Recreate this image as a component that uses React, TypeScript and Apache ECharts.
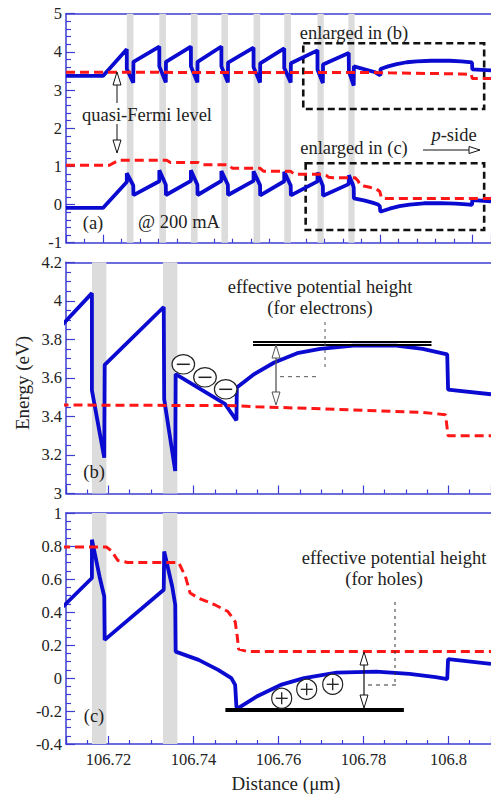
import { useEffect, useRef } from 'react';
import * as echarts from 'echarts';

// Quantum wells (gray bands), µm
const wellStart = [106.6129, 106.6305, 106.6476, 106.6641, 106.6815, 106.6981, 106.7161, 106.7328];
const wellEnd = [106.6165, 106.6341, 106.6512, 106.6677, 106.6851, 106.7017, 106.7195, 106.7362];

// Conduction band edge (eV)
const condBand: [number, number][] = [
  [106.58, 3.37], [106.6, 3.37],
  [106.6129, 4.07], [106.6129, 3.55], [106.6164, 3.19], [106.6165, 3.74],
  [106.6305, 4.14], [106.6305, 3.62], [106.634, 3.2], [106.6341, 3.74],
  [106.6476, 4.14], [106.6476, 3.62], [106.6511, 3.2], [106.6512, 3.74],
  [106.6641, 4.14], [106.6641, 3.62], [106.6676, 3.2], [106.6677, 3.72],
  [106.6815, 4.11], [106.6815, 3.6], [106.685, 3.2], [106.6851, 3.7],
  [106.6981, 4.09], [106.6981, 3.58], [106.7016, 3.2], [106.7017, 3.7],
  [106.7161, 4.04], [106.7161, 3.535], [106.719, 3.186], [106.7191, 3.668],
  [106.733, 3.968], [106.7331, 3.49], [106.7357, 3.117], [106.7358, 3.62],
  [106.7474, 3.465], [106.7501, 3.38], [106.7502, 3.55], [106.7543, 3.62],
  [106.759, 3.68], [106.7644, 3.728], [106.7698, 3.751], [106.7776, 3.767],
  [106.7877, 3.767], [106.7939, 3.751], [106.7997, 3.722], [106.7999, 3.539],
  [106.81, 3.515],
];

// Valence band edge (eV)
const valBand: [number, number][] = [
  [106.58, -0.09], [106.6, -0.09],
  [106.6129, 0.59], [106.6129, 0.82], [106.6164, 0.5], [106.6165, 0.245],
  [106.6305, 0.61], [106.6305, 0.9], [106.634, 0.52], [106.6341, 0.25],
  [106.6476, 0.62], [106.6476, 0.9], [106.6511, 0.52], [106.6512, 0.25],
  [106.6641, 0.62], [106.6641, 0.88], [106.6676, 0.52], [106.6677, 0.25],
  [106.6815, 0.62], [106.6815, 0.87], [106.685, 0.51], [106.6851, 0.24],
  [106.6981, 0.61], [106.6981, 0.86], [106.7016, 0.5], [106.7017, 0.24],
  [106.7161, 0.606], [106.7161, 0.838], [106.7179, 0.614], [106.719, 0.494], [106.7191, 0.231],
  [106.733, 0.535], [106.7331, 0.767], [106.735, 0.553], [106.7357, 0.444], [106.7358, 0.16],
  [106.7412, 0.11], [106.7458, 0.049], [106.7489, -0.001], [106.7498, -0.042],
  [106.7501, -0.175], [106.7505, -0.183], [106.7551, -0.109], [106.7605, -0.042],
  [106.766, -0.001], [106.7737, 0.033], [106.783, 0.039], [106.7908, 0.025],
  [106.797, 0.005], [106.7997, -0.007], [106.7999, 0.114], [106.81, 0.086],
];

// Electron quasi-Fermi level (eV)
const fermiN: [number, number][] = [
  [106.58, 3.465], [106.7, 3.46], [106.75, 3.456], [106.7548, 3.45], [106.7684, 3.441],
  [106.78, 3.432], [106.7939, 3.421], [106.7993, 3.409], [106.7999, 3.3], [106.81, 3.3],
];

// Hole quasi-Fermi level (eV)
const fermiP: [number, number][] = [
  [106.58, 1.03], [106.6035, 1.03], [106.6085, 1.16], [106.6345, 1.16], [106.6365, 1.1],
  [106.6515, 1.1], [106.6535, 1.04], [106.668, 1.04], [106.67, 0.95], [106.685, 0.95],
  [106.687, 0.87], [106.7016, 0.87], [106.7036, 0.794], [106.7195, 0.794], [106.7207, 0.77],
  [106.7222, 0.712], [106.7245, 0.7], [106.7365, 0.7], [106.7381, 0.615], [106.7392, 0.515],
  [106.7412, 0.484], [106.745, 0.444], [106.7481, 0.403], [106.7498, 0.342], [106.7503, 0.251],
  [106.7506, 0.175], [106.7528, 0.16], [106.81, 0.16],
];

// Enlarged-region boxes in panel (a): [x0, x1, y0, y1]
const boxB = [106.7084, 106.8063, 2.503, 4.225];
const boxC = [106.7097, 106.8063, -0.667, 1.08];
// Reference levels
const refLinesB = [3.79, 3.773];
const refLinesBExtent = [106.754, 106.796];
const refLineC = -0.194;
const refLineCExtent = [106.7475, 106.7895];

const xRangeA = [106.58, 106.81];
const xRangeBC = [106.71, 106.81];
const yTicksA = { min: -1, max: 5, interval: 1 };
const yTicksB = { min: 3, max: 4.2, interval: 0.2 };
const yTicksC = { min: -0.4, max: 1, interval: 0.2 };

const FONT = '"Liberation Serif", "Times New Roman", serif';
const AXIS = '#3c3cd2';
const BLUE = '#0a0ad0';
const RED = '#ff1616';
const TXT = '#222';

export default function App() {
  const ref = useRef<HTMLDivElement>(null);
  useEffect(() => {
    if (!ref.current) return;
    const chart = echarts.init(ref.current, undefined, { renderer: 'svg' });

    const xMain = (gi: number, range: number[], labels: boolean, minorSplit: number) => ({
      type: 'value', gridIndex: gi, min: range[0], max: range[1], splitNumber: 5,
      axisLine: { show: true, onZero: false, lineStyle: { color: AXIS, width: 1.5 } },
      axisTick: { show: true, inside: true, length: 8, lineStyle: { color: AXIS, width: 1.2 } },
      minorTick: { show: true, splitNumber: minorSplit, length: 4, lineStyle: { color: AXIS, width: 1.2 } },
      splitLine: { show: false },
      axisLabel: {
        show: labels, showMinLabel: false, showMaxLabel: false, margin: 7,
        color: TXT, fontFamily: FONT, fontSize: 16.5,
      },
    });
    const xTop = (gi: number, range: number[]) => ({
      type: 'value', gridIndex: gi, min: range[0], max: range[1], position: 'top',
      axisLine: { show: true, onZero: false, lineStyle: { color: AXIS, width: 1.5 } },
      axisTick: { show: false }, axisLabel: { show: false }, splitLine: { show: false },
    });
    const yAx = (gi: number, t: any, minorSplit: number) => ({
      type: 'value', gridIndex: gi, min: t.min, max: t.max, interval: t.interval,
      axisLine: { show: true, onZero: false, lineStyle: { color: AXIS, width: 1.5 } },
      axisTick: { show: true, inside: true, length: 9, lineStyle: { color: AXIS, width: 1.2 } },
      minorTick: { show: true, splitNumber: minorSplit, length: 5, lineStyle: { color: AXIS, width: 1.2 } },
      splitLine: { show: false },
      axisLabel: { margin: 4, color: TXT, fontFamily: FONT, fontSize: 16.5 },
    });

    const curve = (data: [number, number][], gi: number, color: string, dashed: boolean, extra: any = {}) => ({
      type: 'line', xAxisIndex: gi, yAxisIndex: gi, data, showSymbol: false, symbol: 'none',
      silent: true, z: dashed ? 4 : 3,
      lineStyle: { color, width: dashed ? 3 : 3.8, type: dashed ? [9, 5] : 'solid' },
      ...extra,
    });

    const bands = (gi: number, range: number[]) => ({
      type: 'line', xAxisIndex: gi, yAxisIndex: gi, data: [], silent: true, z: 1,
      markArea: {
        silent: true, itemStyle: { color: '#dcdcdc' },
        data: wellStart
          .map((s, k) => [s, wellEnd[k]])
          .filter(([s, e]) => e > range[0] && s < range[1])
          .map(([s, e]) => [{ xAxis: Math.max(s, range[0]) }, { xAxis: e }]),
      },
    });

    const boxArea = (b: number[]) => [{ coord: [b[0], b[3]] }, { coord: [b[1], b[2]] }];

    const head = (x: number, y: number, dir: string, color: string) => {
      let pts: number[][];
      if (dir === 'up') pts = [[x, y], [x - 4, y + 13], [x + 4, y + 13]];
      else if (dir === 'down') pts = [[x, y], [x - 4, y - 13], [x + 4, y - 13]];
      else pts = [[x, y], [x - 11, y - 3.5], [x - 11, y + 3.5]];
      return { type: 'polygon', z: 100, shape: { points: pts }, style: { fill: '#fff', stroke: color, lineWidth: 1 } };
    };
    const seg = (x1: number, y1: number, x2: number, y2: number, color: string, w = 1, dash?: number[]) => ({
      type: 'line', z: 100, shape: { x1, y1, x2, y2 },
      style: { stroke: color, lineWidth: w, lineDash: dash },
    });
    const txt = (x: number, y: number, text: string, size = 18.5, extra: any = {}) => ({
      type: 'text', z: 100, x, y,
      style: { text, fill: TXT, fontFamily: FONT, fontSize: size, align: 'center', verticalAlign: 'middle', ...extra },
    });

    const minusCircles = [[183.3, 364.3], [205, 377.3], [225.7, 389.3]];
    const plusCircles = [[281.7, 698.3], [306.7, 689.3], [332.7, 684.3]];

    const graphics: any[] = [
      txt(147, 115, 'quasi-Fermi level'),
      seg(117, 103, 117, 85, '#111'), head(117, 72, 'up', '#111'),
      seg(117, 124, 117, 140, '#111'), head(117, 153, 'down', '#111'),
      txt(93, 223, '(a)'),
      txt(179, 222, '@ 200 mA'),
      txt(354, 33, 'enlarged in (b)'),
      txt(354, 148, 'enlarged in (c)'),
      {
        type: 'text', z: 100, x: 454, y: 135,
        style: {
          text: '{i|p}-side', fill: TXT, fontFamily: FONT, fontSize: 18.5, align: 'center', verticalAlign: 'middle',
          rich: { i: { fontStyle: 'italic', fontFamily: FONT, fontSize: 18.5, fill: TXT } },
        },
      },
      seg(423, 150, 469, 150, '#111'), head(480, 150, 'right', '#111'),
      // panel (b)
      txt(320, 287, 'effective potential height'),
      txt(320, 308, '(for electrons)'),
      seg(276, 357, 276, 392, '#555', 1.3), head(276, 345, 'up', '#555'), head(276, 405, 'down', '#555'),
      seg(280, 376.7, 320, 376.7, '#555', 1, [4, 4]),
      seg(325, 322, 325, 370, '#555', 1, [3, 4]),
      txt(94, 472, '(b)'),
      // panel (c)
      txt(394, 558, 'effective potential height'),
      txt(384, 579, '(for holes)'),
      seg(364, 665, 364, 695, '#111', 1.2), head(364, 652, 'up', '#111'), head(364, 708, 'down', '#111'),
      seg(368, 685, 397, 685, '#333', 1, [4, 4]),
      seg(395, 602, 395, 683, '#333', 1, [3, 4]),
      txt(94, 716, '(c)'),
      // axis names
      txt(22, 383, 'Energy (eV)', 19, {}),
      txt(286, 783, 'Distance (\u03bcm)', 19),
    ];
    graphics[graphics.length - 2].rotation = Math.PI / 2;

    minusCircles.forEach(([cx, cy]) => {
      graphics.push({ type: 'ellipse', z: 100, shape: { cx, cy, rx: 11.3, ry: 9.7 }, style: { fill: '#fff', stroke: '#222', lineWidth: 1.2 } });
      graphics.push(seg(cx - 6.5, cy, cx + 6.5, cy, '#222', 1.5));
    });
    plusCircles.forEach(([cx, cy]) => {
      graphics.push({ type: 'circle', z: 100, shape: { cx, cy, r: 10 }, style: { fill: '#fff', stroke: '#222', lineWidth: 1.2 } });
      graphics.push(seg(cx - 6, cy, cx + 6, cy, '#222', 1.3));
      graphics.push(seg(cx, cy - 6, cx, cy + 6, '#222', 1.3));
    });

    chart.setOption({
      animation: false,
      backgroundColor: '#fff',
      grid: [
        { left: 66, top: 13.7, width: 430, height: 229 },
        { left: 66, top: 262.3, width: 430, height: 231.2 },
        { left: 66, top: 513, width: 430, height: 231 },
      ],
      xAxis: [
        xMain(0, xRangeA, false, 5),
        xMain(1, xRangeBC, false, 4),
        xMain(2, xRangeBC, true, 4),
        xTop(0, xRangeA),
        xTop(1, xRangeBC),
        xTop(2, xRangeBC),
      ],
      yAxis: [yAx(0, yTicksA, 5), yAx(1, yTicksB, 4), yAx(2, yTicksC, 4)],
      series: [
        bands(0, xRangeA),
        bands(1, xRangeBC),
        bands(2, xRangeBC),
        {
          type: 'line', xAxisIndex: 0, yAxisIndex: 0, data: [], silent: true, z: 5,
          markArea: {
            silent: true,
            itemStyle: { color: 'rgba(0,0,0,0)', borderColor: '#111', borderWidth: 2.6, borderType: [7, 4] },
            data: [boxArea(boxB), boxArea(boxC)],
          },
        },
        curve(condBand, 0, BLUE, false),
        curve(valBand, 0, BLUE, false),
        curve(fermiN, 0, RED, true),
        curve(fermiP, 0, RED, true),
        curve(condBand, 1, BLUE, false, {
          markLine: {
            silent: true, symbol: ['none', 'none'], label: { show: false },
            lineStyle: { color: '#000', width: 2, type: 'solid' },
            data: refLinesB.map((v) => [{ coord: [refLinesBExtent[0], v] }, { coord: [refLinesBExtent[1], v] }]),
          },
        }),
        curve(fermiN, 1, RED, true),
        curve(valBand, 2, BLUE, false, {
          markLine: {
            silent: true, symbol: ['none', 'none'], label: { show: false },
            lineStyle: { color: '#000', width: 4, type: 'solid' },
            data: [[{ coord: [refLineCExtent[0], refLineC] }, { coord: [refLineCExtent[1], refLineC] }]],
          },
        }),
        curve(fermiP, 2, RED, true),
      ],
      graphic: graphics,
    });
    return () => chart.dispose();
  }, []);
  return (
    <div
      ref={ref}
      style={{ position: 'fixed', left: 0, top: 0, width: 491, height: 795, background: '#fff' }}
    />
  );
}
